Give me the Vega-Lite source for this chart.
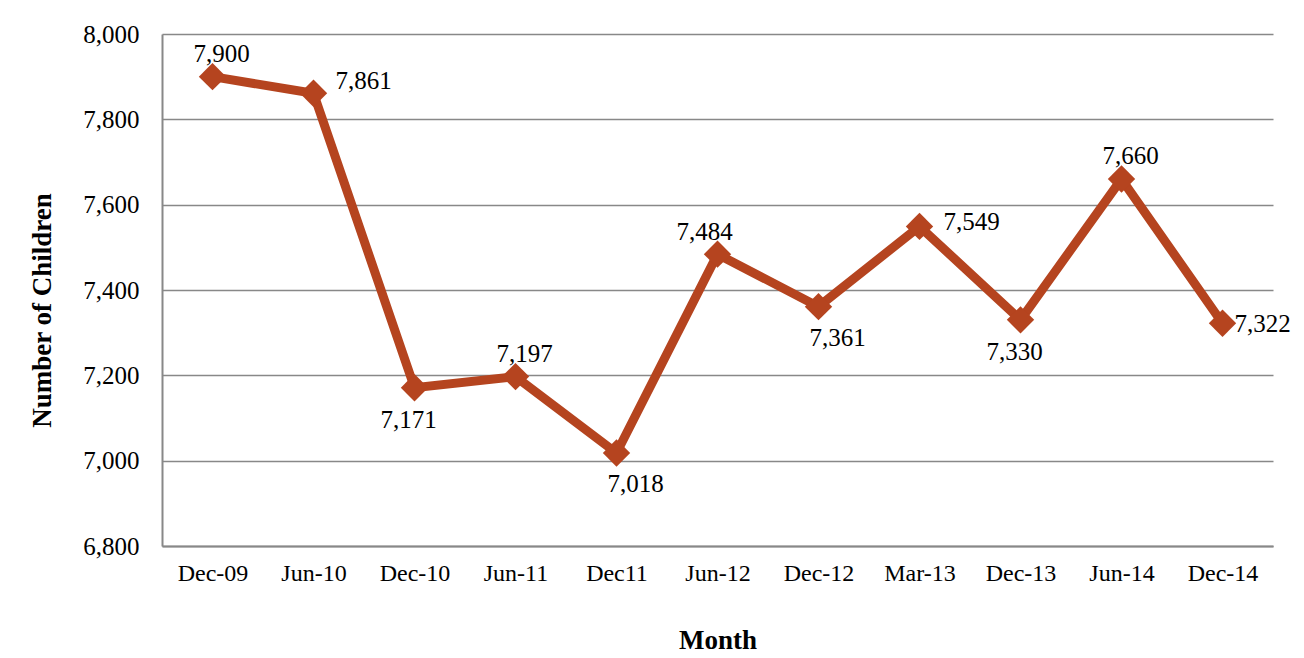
{
  "$schema": "https://vega.github.io/schema/vega-lite/v6.json",
  "width": 1111,
  "height": 512,
  "autosize": {"type": "none"},
  "padding": {"left": 162, "top": 34, "right": 31, "bottom": 112},
  "background": "white",
  "config": {
    "font": "Liberation Serif",
    "view": {"stroke": null},
    "text": {"font": "Liberation Serif", "fontSize": 25, "color": "black"},
    "axis": {"labelFont": "Liberation Serif", "titleFont": "Liberation Serif", "labelColor": "black", "titleColor": "black"}
  },
  "data": {
    "values": [
      {"month": "Dec-09", "children": 7900},
      {"month": "Jun-10", "children": 7861},
      {"month": "Dec-10", "children": 7171},
      {"month": "Jun-11", "children": 7197},
      {"month": "Dec11", "children": 7018},
      {"month": "Jun-12", "children": 7484},
      {"month": "Dec-12", "children": 7361},
      {"month": "Mar-13", "children": 7549},
      {"month": "Dec-13", "children": 7330},
      {"month": "Jun-14", "children": 7660},
      {"month": "Dec-14", "children": 7322}
    ]
  },
  "encoding": {
    "x": {
      "field": "month", "type": "ordinal", "sort": null, "title": "Month",
      "axis": {"labelAngle": 0, "labelFontSize": 24, "labelPadding": 15, "ticks": false, "domainColor": "#888888", "domainWidth": 2, "titleFontSize": 27, "titleFontWeight": "bold", "titlePadding": 42}
    },
    "y": {
      "field": "children", "type": "quantitative", "title": "Number of Children",
      "scale": {"domain": [6800, 8000], "nice": false, "zero": false},
      "axis": {"values": [6800, 7000, 7200, 7400, 7600, 7800, 8000], "format": ",d", "labelFontSize": 25, "labelPadding": 23, "ticks": false, "domainColor": "#888888", "domainWidth": 2, "gridColor": "#888888", "gridWidth": 1.5, "titleFontSize": 27, "titleFontWeight": "bold", "titlePadding": 26, "titleY": 276}
    }
  },
  "layer": [
    {"mark": {"type": "line", "color": "#B5441F", "strokeWidth": 9}},
    {"mark": {"type": "point", "shape": "diamond", "filled": true, "color": "#B5441F", "size": 750, "opacity": 1}},
    {
      "transform": [{"filter": "indexof(['Dec-09','Jun-11','Jun-14'], datum.month) >= 0"}],
      "mark": {"type": "text", "dy": -23, "dx": 9},
      "encoding": {"text": {"field": "children", "type": "quantitative", "format": ",d"}}
    },
    {
      "transform": [{"filter": "datum.month == 'Jun-12'"}],
      "mark": {"type": "text", "dy": -22, "dx": -13},
      "encoding": {"text": {"field": "children", "type": "quantitative", "format": ",d"}}
    },
    {
      "transform": [{"filter": "indexof(['Dec-10','Dec-13'], datum.month) >= 0"}],
      "mark": {"type": "text", "dy": 32, "dx": -6},
      "encoding": {"text": {"field": "children", "type": "quantitative", "format": ",d"}}
    },
    {
      "transform": [{"filter": "indexof(['Dec11','Dec-12'], datum.month) >= 0"}],
      "mark": {"type": "text", "dy": 31, "dx": 19},
      "encoding": {"text": {"field": "children", "type": "quantitative", "format": ",d"}}
    },
    {
      "transform": [{"filter": "datum.month == 'Jun-10'"}],
      "mark": {"type": "text", "align": "left", "dx": 22, "dy": -12},
      "encoding": {"text": {"field": "children", "type": "quantitative", "format": ",d"}}
    },
    {
      "transform": [{"filter": "datum.month == 'Mar-13'"}],
      "mark": {"type": "text", "align": "left", "dx": 24, "dy": -4},
      "encoding": {"text": {"field": "children", "type": "quantitative", "format": ",d"}}
    },
    {
      "transform": [{"filter": "datum.month == 'Dec-14'"}],
      "mark": {"type": "text", "align": "left", "dx": 12, "dy": 1},
      "encoding": {"text": {"field": "children", "type": "quantitative", "format": ",d"}}
    }
  ]
}
